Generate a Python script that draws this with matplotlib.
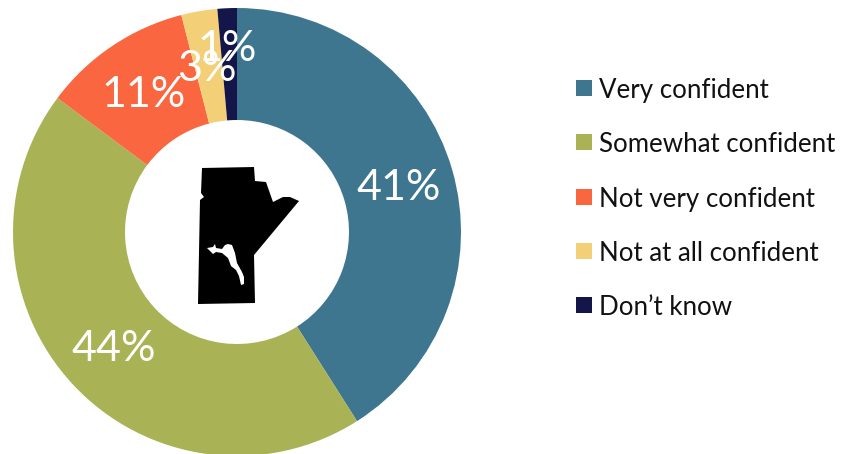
import math
import matplotlib
matplotlib.use("Agg")
import matplotlib.pyplot as plt
from matplotlib.patches import Polygon, Rectangle

categories = ["Very confident", "Somewhat confident", "Not very confident", "Not at all confident", "Don\u2019t know"]
values = [41.0, 44.2, 10.8, 2.6, 1.4]
colors = ["#3E7690", "#A9B255", "#F9663F", "#F3CF78", "#141649"]

W, H = 842, 454
plt.rcParams["font.family"] = ["Lato", "DejaVu Sans"]
fig = plt.figure(figsize=(W / 100, H / 100), dpi=100)
ax = fig.add_axes([0, 0, 1, 1])

def Y(py):
    return H - py

CX, CY, R, HOLE = 237, 232, 224, 112
ax.pie(values, colors=colors, startangle=90, counterclock=False, center=(CX, Y(CY)), radius=R,
       wedgeprops=dict(width=R - HOLE, linewidth=0), frame=False)
ax.set_xlim(0, W)
ax.set_ylim(0, H)
ax.set_aspect("equal")
ax.axis("off")

# value labels at mid-wedge; the smallest ones are shifted as in the reference
label_offset = [(0, -3), (0, -3), (0, -3), (-2, -3), (-2, 15)]
cum = 0
total = sum(values)
for v, (dx, dy) in zip(values, label_offset):
    ang = math.radians(90 - 360 * (cum + v / 2) / total)
    cum += v
    ax.text(CX + 168 * math.cos(ang) + dx, Y(CY) + 168 * math.sin(ang) + dy, f"{round(v)}%",
            color="white", fontsize=31, ha="center", va="center", zorder=5)

# Manitoba silhouette (decoration), outline in reference pixels
outline = [(202, 168), (254, 167), (255, 181), (266, 182), (273, 202), (283, 197), (290, 197), (299, 201),
           (254, 255), (255, 303), (198, 304), (200, 200), (204, 197), (201, 193)]
lake = [(207, 248), (213, 247), (215, 244), (216, 248), (222, 249), (225, 245), (228, 244), (232, 245),
        (235, 253), (237, 263), (242, 272), (244, 277), (244, 284), (241, 285), (239, 276),
        (236, 270), (231, 266), (228, 258), (222, 253), (216, 252), (213, 254)]
ax.add_patch(Polygon([(x, Y(y)) for x, y in outline], closed=True, fc="black", ec="none", zorder=6))
ax.add_patch(Polygon([(x, Y(y)) for x, y in lake], closed=True, fc="white", ec="none", zorder=7))

# legend
legend_y = [88, 142, 197, 251, 305]
for name, col, ly in zip(categories, colors, legend_y):
    ax.add_patch(Rectangle((576, Y(ly) - 8), 16, 16, fc=col, ec="none"))
    ax.text(599, Y(ly), name, fontsize=18.6, color="#111111", ha="left", va="center_baseline")

fig.savefig("out.png", dpi=100)
